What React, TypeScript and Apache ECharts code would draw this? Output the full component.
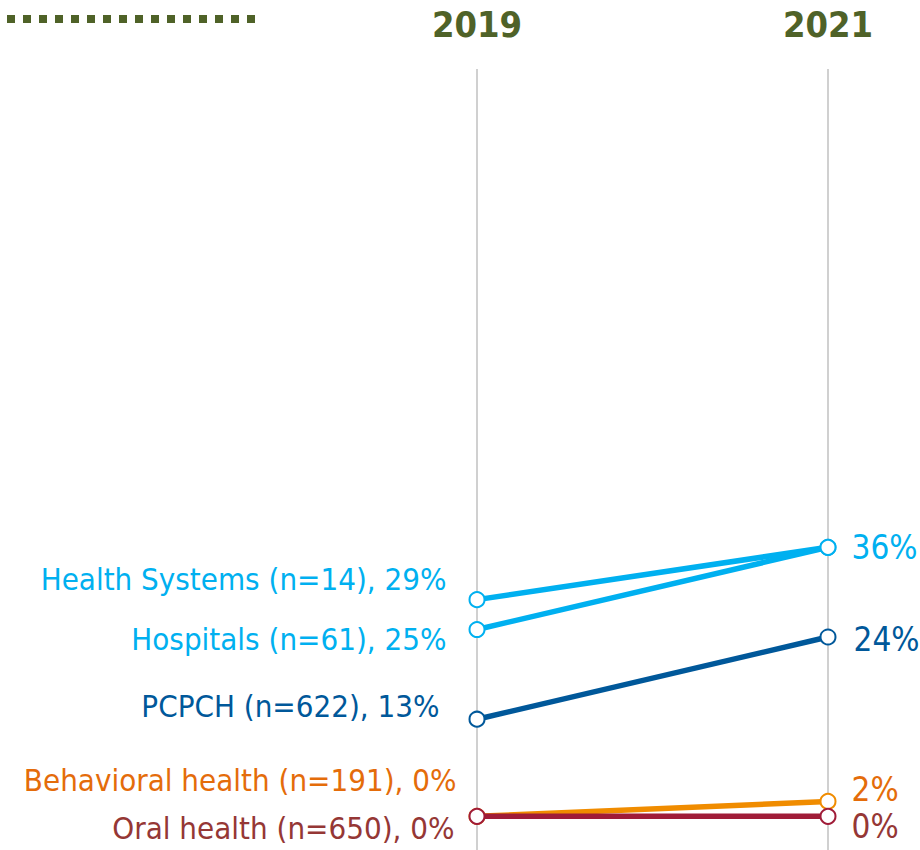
import React, { useEffect, useRef } from "react";
import * as echarts from "echarts";

const years = ["2019", "2021"];
const seriesNames = ["Health Systems", "Hospitals", "PCPCH", "Behavioral health", "Oral health"];
const sampleSizes = [14, 61, 622, 191, 650];
const values2019 = [29, 25, 13, 0, 0];
const values2021 = [36, 36, 24, 2, 0];
const lineColors = ["#00B0F0", "#00B0F0", "#00589A", "#F08C00", "#A01C38"];
const labelColors = ["#00B0F0", "#00B0F0", "#00589A", "#E46C0A", "#953735"];
const showEndLabel = [true, false, true, true, true];
const startLabelOffset: [number, number][] = [[0, -21], [0, 9], [-7, -13], [10, -36], [8, 12]];
const endLabelOffset: [number, number][] = [[0, 0], [0, 0], [2, 2], [0, -12], [0, 10]];

const FONT = "'Liberation Sans Narrow', 'DejaVu Sans Condensed', 'Roboto Condensed', sans-serif";

export default function App() {
  const ref = useRef<HTMLDivElement>(null);
  useEffect(() => {
    if (!ref.current) return;
    const chart = echarts.init(ref.current, null, { renderer: "svg" });
    const series = seriesNames.map((name, i) => ({
      name,
      type: "line",
      data: [
        {
          value: values2019[i],
          label: {
            show: true,
            position: "left",
            distance: 22,
            offset: startLabelOffset[i],
            formatter: `${name} (n=${sampleSizes[i]}), ${values2019[i]}%`,
            color: labelColors[i],
            fontSize: 31,
            fontFamily: FONT,
          },
        },
        {
          value: values2021[i],
          label: {
            show: showEndLabel[i],
            position: "right",
            distance: 15,
            offset: endLabelOffset[i],
            formatter: `${values2021[i]}%`,
            color: labelColors[i],
            fontSize: 33,
            fontFamily: FONT,
          },
        },
      ],
      symbol: "circle",
      symbolSize: 15,
      showSymbol: true,
      lineStyle: { color: lineColors[i], width: 5.5 },
      itemStyle: { color: "#ffffff", borderColor: lineColors[i], borderWidth: 2 },
      emphasis: { disabled: true },
      z: 2 + i,
    }));
    chart.setOption({
      animation: false,
      grid: { left: 477, right: 92, top: 69, bottom: 0, containLabel: false },
      xAxis: {
        type: "category",
        data: years,
        boundaryGap: false,
        position: "top",
        axisLine: { show: false },
        axisTick: { show: false },
        axisLabel: {
          color: "#4F6228",
          fontSize: 36,
          fontWeight: "bold",
          fontFamily: FONT,
          margin: 27,
        },
        splitLine: { show: true, lineStyle: { color: "#D0D0D0", width: 2 } },
      },
      yAxis: {
        type: "value",
        min: -4.5,
        max: 100,
        show: false,
        splitLine: { show: false },
      },
      graphic: [
        {
          type: "line",
          shape: { x1: 7, y1: 19, x2: 255, y2: 19 },
          style: { stroke: "#4F6228", lineWidth: 8, lineDash: [8, 8] },
        },
      ],
      series,
    });
    return () => chart.dispose();
  }, []);
  return (
    <div
      ref={ref}
      style={{ position: "fixed", left: 0, top: 0, width: 920, height: 850, background: "#fff" }}
    />
  );
}
